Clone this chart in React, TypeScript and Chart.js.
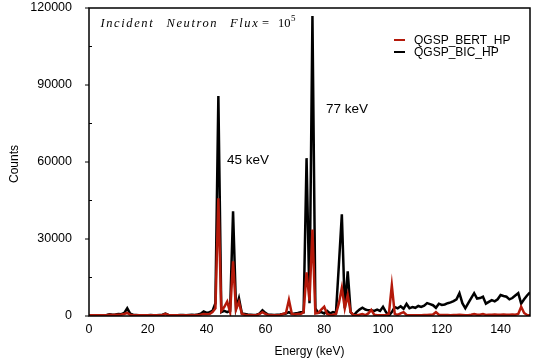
import { useEffect, useRef } from "react";
import { Chart, registerables } from "chart.js";

Chart.register(...registerables);

const energy = [
  0, 1, 2, 3, 4, 5, 6, 7, 8, 9,
  10, 11, 12, 13, 14, 15, 16, 17, 18, 19,
  20, 21, 22, 23, 24, 25, 26, 27, 28, 29,
  30, 31, 32, 33, 34, 35, 36, 37, 38, 39,
  40, 41, 42, 43, 44, 45, 46, 47, 48, 49,
  50, 51, 52, 53, 54, 55, 56, 57, 58, 59,
  60, 61, 62, 63, 64, 65, 66, 67, 68, 69,
  70, 71, 72, 73, 74, 75, 76, 77, 78, 79,
  80, 81, 82, 83, 84, 85, 86, 87, 88, 89,
  90, 91, 92, 93, 94, 95, 96, 97, 98, 99,
  100, 101, 102, 103, 104, 105, 106, 107, 108, 109,
  110, 111, 112, 113, 114, 115, 116, 117, 118, 119,
  120, 121, 122, 123, 124, 125, 126, 127, 128, 129,
  130, 131, 132, 133, 134, 135, 136, 137, 138, 139,
  140, 141, 142, 143, 144, 145, 146, 147, 148, 149, 150,
];

const bertCounts = [
  300, 300, 300, 300, 300, 300, 300, 500, 400, 500,
  500, 600, 800, 1200, 500, 300, 300, 300, 300, 300,
  300, 300, 300, 300, 300, 400, 800, 400, 300, 300,
  300, 300, 300, 300, 300, 300, 300, 400, 500, 800,
  700, 800, 1500, 3000, 45900, 2000, 3500, 5600, 1500, 21300,
  2500, 5500, 800, 500, 300, 300, 300, 300, 800, 1500,
  800, 300, 300, 300, 300, 400, 800, 1200, 6300, 800,
  600, 800, 800, 1500, 17000, 6000, 33700, 1000, 1200, 2500,
  3600, 800, 300, 500, 800, 5000, 11000, 3000, 8200, 1500,
  300, 300, 500, 800, 300, 1000, 2400, 500, 300, 300,
  300, 300, 800, 11900, 800, 400, 1000, 1500, 400, 300,
  300, 300, 300, 300, 400, 400, 500, 600, 1500, 500,
  400, 400, 400, 300, 400, 400, 500, 400, 300, 300,
  500, 800, 500, 500, 800, 400, 500, 500, 600, 500,
  500, 600, 500, 500, 600, 500, 800, 3600, 1200, 400, 300,
];

const bicCounts = [
  200, 200, 300, 200, 300, 300, 400, 700, 500, 600,
  800, 700, 1200, 3000, 900, 500, 400, 300, 300, 300,
  300, 400, 300, 300, 400, 500, 900, 400, 300, 300,
  300, 400, 400, 300, 400, 500, 400, 600, 900, 1800,
  1200, 1500, 2000, 5000, 85700, 1500, 2000, 1500, 2000, 40800,
  3000, 7000, 1000, 800, 600, 500, 400, 500, 900, 2200,
  1200, 500, 500, 400, 500, 600, 800, 1000, 1500, 800,
  1000, 1200, 1500, 1500, 61500, 5000, 116900, 3000, 1200, 1500,
  1000, 2000, 1000, 1500, 1200, 20000, 39600, 3000, 17400, 1500,
  200, 1500, 2500, 3200, 2500, 2200, 2200, 2000, 2500, 2000,
  3600, 1500, 100, 1500, 3500, 3000, 3800, 2800, 4700, 3000,
  3500, 3200, 3900, 3500, 4000, 5000, 4600, 4200, 3200, 4800,
  4300, 4500, 5000, 5300, 5800, 6500, 8900, 5000, 3000, 5000,
  7000, 8900, 6800, 7000, 7500, 4800, 5500, 6200, 5700, 6500,
  8200, 7800, 7500, 6500, 7000, 8000, 8900, 4800, 6500, 8000, 9200,
];

const xTickLabels = [0, 20, 40, 60, 80, 100, 120, 140];
const yTickLabels = [0, 30000, 60000, 90000, 120000];
const yMinorTicks = [15000, 45000, 75000, 105000];

const seriesNames = ["QGSP_BERT_HP", "QGSP_BIC_HP"];
const seriesColors = ["#b4190a", "#000000"];

const peakLabels = ["45 keV", "77 keV"];
const peakLabelEnergy = [46.9, 80.6];
const peakLabelCounts = [60800, 80600];

const SANS = '"Liberation Sans", Arial, Helvetica, sans-serif';
const SERIF = '"Liberation Serif", "Times New Roman", serif';

const decorPlugin = {
  id: "decor",
  afterDraw(chart: any) {
    const ctx = chart.ctx as CanvasRenderingContext2D;
    const { left, right, top, bottom } = chart.chartArea;
    const xs = chart.scales.x;
    const ys = chart.scales.y;
    ctx.save();

    // frame
    ctx.strokeStyle = "#000";
    ctx.lineWidth = 1.5;
    ctx.strokeRect(left, top, right - left, bottom - top);

    // y ticks
    ctx.lineWidth = 1;
    ctx.beginPath();
    yTickLabels.forEach((v) => {
      const py = ys.getPixelForValue(v);
      ctx.moveTo(left - 4, py);
      ctx.lineTo(left, py);
    });
    yMinorTicks.forEach((v) => {
      const py = ys.getPixelForValue(v);
      ctx.moveTo(left, py);
      ctx.lineTo(left + 3, py);
    });
    ctx.stroke();

    // axis titles
    ctx.fillStyle = "#000";
    ctx.font = `12px ${SANS}`;
    ctx.textAlign = "center";
    ctx.textBaseline = "middle";
    ctx.fillText("Energy (keV)", (left + right) / 2, 352);
    ctx.save();
    ctx.translate(15, (top + bottom) / 2 + 2);
    ctx.rotate(-Math.PI / 2);
    ctx.fillText("Counts", 0, 0);
    ctx.restore();

    // peak annotations
    ctx.font = `13.5px ${SANS}`;
    ctx.textAlign = "left";
    ctx.textBaseline = "middle";
    peakLabels.forEach((t, i) => {
      ctx.fillText(
        t,
        xs.getPixelForValue(peakLabelEnergy[i]),
        ys.getPixelForValue(peakLabelCounts[i])
      );
    });

    // title text
    ctx.textBaseline = "alphabetic";
    ctx.font = `italic 12.5px ${SERIF}`;
    (ctx as any).letterSpacing = "1.6px";
    ctx.fillText("Incident", 100.5, 26.5);
    ctx.fillText("Neutron", 166.5, 26.5);
    ctx.fillText("Flux", 230, 26.5);
    (ctx as any).letterSpacing = "0px";
    ctx.font = `12.5px ${SERIF}`;
    ctx.fillText("=", 262, 26.5);
    ctx.fillText("10", 278, 26.5);
    ctx.font = `9px ${SERIF}`;
    ctx.fillText("5", 291, 21);

    // legend
    ctx.font = `12px ${SANS}`;
    ctx.textBaseline = "middle";
    ctx.lineWidth = 2;
    seriesNames.forEach((name, i) => {
      const y = 40 + i * 12;
      ctx.strokeStyle = seriesColors[i];
      ctx.beginPath();
      ctx.moveTo(394, y);
      ctx.lineTo(405, y);
      ctx.stroke();
      ctx.fillStyle = "#000";
      ctx.fillText(name, 414, y + 0.5);
    });

    ctx.restore();
  },
};

export default function App() {
  const ref = useRef<HTMLCanvasElement>(null);

  useEffect(() => {
    document.body.style.margin = "0";
    const canvas = ref.current;
    if (!canvas) return;
    const seriesValues = [bertCounts, bicCounts];
    const chart = new Chart(canvas, {
      type: "line",
      data: {
        datasets: seriesNames.map((name, i) => ({
          label: name,
          data: energy.map((e, j) => ({ x: e, y: seriesValues[i][j] })),
          borderColor: seriesColors[i],
          backgroundColor: seriesColors[i],
          borderWidth: 2.5,
          pointRadius: 0,
          tension: 0,
          borderJoinStyle: "miter" as const,
          fill: false,
        })),
      },
      options: {
        animation: false,
        responsive: false,
        maintainAspectRatio: false,
        devicePixelRatio: 1,
        layout: { padding: { left: 0, top: 8, right: 7, bottom: 0 } },
        plugins: {
          legend: { display: false },
          tooltip: { enabled: false },
        },
        scales: {
          x: {
            type: "linear",
            min: 0,
            max: 150,
            grid: { display: false, drawTicks: false },
            border: { display: false },
            ticks: {
              padding: 6,
              autoSkip: false,
              maxRotation: 0,
              color: "#000",
              font: { family: SANS, size: 12.5 },
              callback: (v: any) => String(v),
            },
            afterBuildTicks: (s: any) => {
              s.ticks = xTickLabels.map((v) => ({ value: v }));
            },
            afterFit: (s: any) => {
              s.height = 46;
              s.paddingLeft = 0;
              s.paddingRight = 0;
            },
          },
          y: {
            type: "linear",
            min: 0,
            max: 120000,
            grid: { display: false, drawTicks: false },
            border: { display: false },
            ticks: {
              padding: 17,
              color: "#000",
              font: { family: SANS, size: 12.5 },
              callback: (v: any) => String(v),
            },
            afterBuildTicks: (s: any) => {
              s.ticks = yTickLabels.map((v) => ({ value: v }));
            },
            afterFit: (s: any) => {
              s.width = 89;
              s.paddingTop = 0;
              s.paddingBottom = 0;
            },
          },
        },
      },
      plugins: [decorPlugin],
    });
    return () => chart.destroy();
  }, []);

  return (
    <div style={{ position: "fixed", left: 0, top: 0, width: 537, height: 362, background: "#fff" }}>
      <canvas ref={ref} width={537} height={362} style={{ display: "block", width: 537, height: 362 }} />
    </div>
  );
}
